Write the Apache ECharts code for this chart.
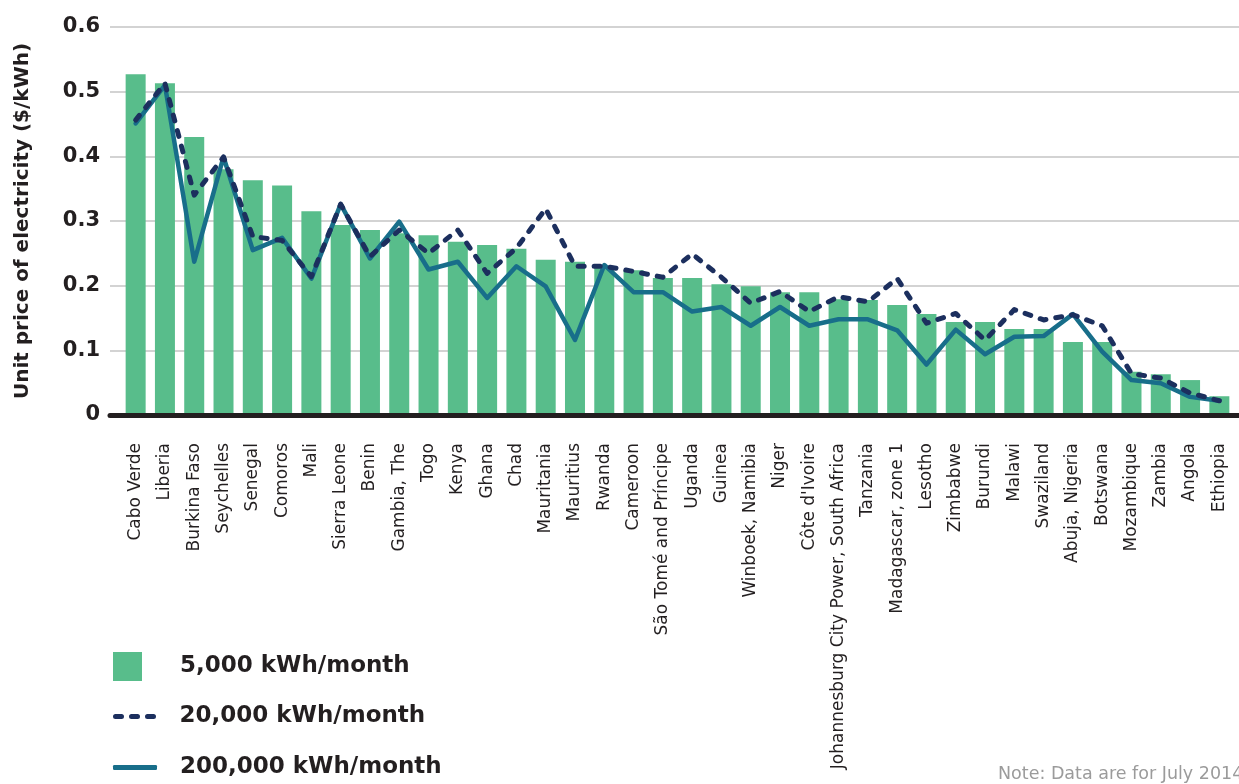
<!DOCTYPE html>
<html>
<head>
<meta charset="utf-8">
<script src="https://cdn.jsdelivr.net/npm/echarts@6/dist/echarts.min.js"></script>
<style>
  html, body { margin: 0; padding: 0; background: #fff; }
  #chart { width: 1239px; height: 784px; }
</style>
</head>
<body>
<div id="chart"></div>
<script>
// categories and prices
const categories = ['Cabo Verde', 'Liberia', 'Burkina Faso', 'Seychelles', 'Senegal', 'Comoros', 'Mali',
  'Sierra Leone', 'Benin', 'Gambia, The', 'Togo', 'Kenya', 'Ghana', 'Chad', 'Mauritania', 'Mauritius',
  'Rwanda', 'Cameroon', 'São Tomé and Príncipe', 'Uganda', 'Guinea', 'Winboek, Namibia', 'Niger',
  "Côte d'Ivoire", 'Johannesburg City Power, South Africa', 'Tanzania', 'Madagascar, zone 1', 'Lesotho',
  'Zimbabwe', 'Burundi', 'Malawi', 'Swaziland', 'Abuja, Nigeria', 'Botswana', 'Mozambique', 'Zambia',
  'Angola', 'Ethiopia'];

const price5k = [0.527, 0.513, 0.430, 0.380, 0.363, 0.355, 0.315, 0.294, 0.286, 0.281, 0.278, 0.268,
  0.263, 0.257, 0.240, 0.237, 0.229, 0.224, 0.212, 0.212, 0.202, 0.199, 0.190, 0.190, 0.179, 0.178,
  0.170, 0.156, 0.144, 0.144, 0.133, 0.133, 0.113, 0.113, 0.067, 0.063, 0.054, 0.029];

const price20k = [0.456, 0.513, 0.340, 0.399, 0.276, 0.270, 0.214, 0.326, 0.245, 0.286, 0.250, 0.286,
  0.219, 0.258, 0.319, 0.230, 0.230, 0.222, 0.213, 0.249, 0.213, 0.173, 0.191, 0.160, 0.183, 0.175,
  0.211, 0.142, 0.157, 0.116, 0.163, 0.147, 0.155, 0.138, 0.064, 0.057, 0.034, 0.022];

const price200k = [0.451, 0.510, 0.237, 0.399, 0.255, 0.274, 0.211, 0.326, 0.242, 0.299, 0.225, 0.237,
  0.181, 0.230, 0.199, 0.116, 0.232, 0.190, 0.190, 0.160, 0.167, 0.138, 0.167, 0.138, 0.148, 0.148,
  0.131, 0.078, 0.132, 0.094, 0.121, 0.122, 0.156, 0.098, 0.054, 0.049, 0.028, 0.022];

const yTicks = [0, 0.1, 0.2, 0.3, 0.4, 0.5, 0.6];

const seriesNames = ['5,000 kWh/month', '20,000 kWh/month', '200,000 kWh/month'];

const FONT = '"DejaVu Sans"';
const DARK = '#231f20';
const GREEN = '#58bd8b';
const NAVY = '#1c2f5e';
const TEAL = '#186e8a';

let chart = echarts.init(document.getElementById('chart'));

let legendText = { fontFamily: FONT, fontSize: 23, fontWeight: 'bold', color: DARK };

let legendBase = {
  orient: 'vertical',
  left: 113,
  padding: 0,
  selectedMode: false,
  itemStyle: { borderWidth: 0 }
};

let option = {
  animation: false,
  title: {
    text: 'Note: Data are for July 2014',
    left: 998,
    top: 765,
    padding: 0,
    textStyle: { fontFamily: FONT, fontSize: 17.5, fontWeight: 'normal', color: '#9b9b9b' }
  },
  legend: [
    Object.assign({}, legendBase, {
      data: [{ name: seriesNames[0], icon: 'rect' }],
      top: 652, itemWidth: 29, itemHeight: 29,
      textStyle: Object.assign({}, legendText, { padding: [0, 0, 0, 33] })
    }),
    Object.assign({}, legendBase, {
      data: [{ name: seriesNames[1], icon: 'path://M2.5,0h6a2.5,2.5,0,0,1,0,5h-6a2.5,2.5,0,0,1,0,-5z M18.5,0h6a2.5,2.5,0,0,1,0,5h-6a2.5,2.5,0,0,1,0,-5z M34.5,0h6a2.5,2.5,0,0,1,0,5h-6a2.5,2.5,0,0,1,0,-5z' }],
      top: 705, itemWidth: 44, itemHeight: 5,
      textStyle: Object.assign({}, legendText, { padding: [0, 0, 0, 18] })
    }),
    Object.assign({}, legendBase, {
      data: [{ name: seriesNames[2], icon: 'roundRect' }],
      top: 756, itemWidth: 44, itemHeight: 5,
      textStyle: Object.assign({}, legendText, { padding: [0, 0, 0, 18] })
    })
  ],
  grid: [
    // grid 0: gridlines, value labels and base line (reaches further left)
    { left: 110, right: 0, top: 27, bottom: 369 },
    // grid 1: the bars and lines
    { left: 121, right: 5, top: 27, bottom: 369 }
  ],
  xAxis: [
    {
      gridIndex: 0,
      type: 'category',
      data: categories,
      z: 5,
      axisLine: { lineStyle: { color: DARK, width: 5 } },
      axisTick: { show: false },
      axisLabel: { show: false }
    },
    {
      gridIndex: 1,
      type: 'category',
      data: categories,
      axisLine: { show: false },
      axisTick: { show: false },
      axisLabel: {
        rotate: 90,
        interval: 0,
        margin: 28,
        fontFamily: FONT,
        fontSize: 17,
        color: DARK
      }
    }
  ],
  yAxis: [
    {
      gridIndex: 0,
      type: 'value',
      min: yTicks[0],
      max: yTicks[yTicks.length - 1],
      interval: 0.1,
      name: 'Unit price of electricity ($/kWh)',
      nameLocation: 'middle',
      nameGap: 77,
      nameTextStyle: { fontFamily: FONT, fontSize: 20, fontWeight: 'bold', color: DARK },
      axisLine: { show: false },
      axisTick: { show: false },
      axisLabel: {
        margin: 10,
        fontFamily: FONT,
        fontSize: 21,
        fontWeight: 'bold',
        color: DARK,
        formatter: v => (v === 0 ? '0' : v.toFixed(1))
      },
      splitLine: { lineStyle: { color: '#d3d3d3', width: 2 } }
    },
    {
      gridIndex: 1,
      type: 'value',
      min: yTicks[0],
      max: yTicks[yTicks.length - 1],
      show: false
    }
  ],
  series: [
    {
      name: seriesNames[0],
      type: 'bar',
      xAxisIndex: 1,
      yAxisIndex: 1,
      barWidth: 20,
      itemStyle: { color: GREEN },
      data: price5k
    },
    {
      name: seriesNames[2],
      type: 'line',
      xAxisIndex: 1,
      yAxisIndex: 1,
      symbol: 'none',
      z: 3,
      lineStyle: { color: TEAL, width: 4.5, join: 'round', cap: 'round' },
      itemStyle: { color: TEAL },
      data: price200k
    },
    {
      name: seriesNames[1],
      type: 'line',
      xAxisIndex: 1,
      yAxisIndex: 1,
      symbol: 'none',
      z: 4,
      lineStyle: { color: NAVY, width: 5, type: [6, 10], cap: 'round', join: 'round' },
      itemStyle: { color: NAVY },
      data: price20k
    }
  ]
};

chart.setOption(option);
</script>
</body>
</html>
